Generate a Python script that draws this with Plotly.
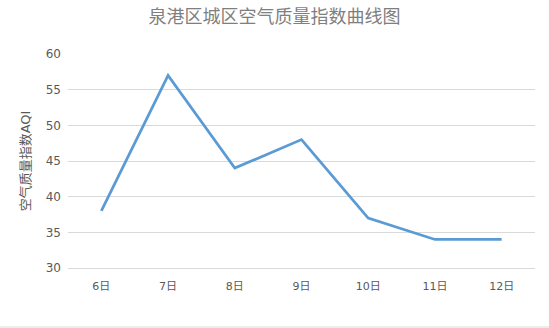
import plotly.graph_objects as go

days = ["6日", "7日", "8日", "9日", "10日", "11日", "12日"]
aqi = [38, 57, 44, 48, 37, 34, 34]

W, H = 549, 328
ml, mr, mt, mb = 68, 14, 54, 60
pw, ph = W - ml - mr, H - mt - mb

fig = go.Figure()
fig.add_trace(go.Scatter(x=days, y=aqi, mode="lines",
                         line=dict(color="#5B9BD5", width=2.75)))

fig.update_layout(
    width=W, height=H,
    margin=dict(l=ml, r=mr, t=mt, b=mb),
    paper_bgcolor="white", plot_bgcolor="white",
    showlegend=False,
    font=dict(family="DejaVu Sans, Noto Sans CJK SC", color="#595959", size=12),
    title=dict(text="泉港区城区空气质量指数曲线图", x=0.5, xanchor="center",
               y=1 - 17 / H, yanchor="middle",
               font=dict(family="Noto Sans CJK SC", size=18, color="#7f7f7f")),
    xaxis=dict(type="category", showgrid=False, zeroline=False, showline=True,
               linecolor="#d9d9d9", linewidth=1,
               ticks="", tickfont=dict(size=11, color="#595959"),
               ticklabelstandoff=8,
               range=[-0.5, 6.5]),
    yaxis=dict(range=[30, 60], dtick=5, showgrid=True, gridcolor="#d9d9d9",
               gridwidth=1, zeroline=False, showline=False, ticks="",
               tickfont=dict(size=12, color="#595959"),
               ticklabelstandoff=6,
               title=dict(text="空气质量指数AQI", font=dict(size=13, color="#595959"),
                          standoff=12)),
)

fig.add_shape(type="line", xref="paper", yref="paper",
              x0=-ml / pw, x1=(W - ml) / pw, y0=-(H - 1 - (H - mb)) / ph,
              y1=-(H - 1 - (H - mb)) / ph,
              line=dict(color="#d9d9d9", width=1))

fig.write_html("out.html")
